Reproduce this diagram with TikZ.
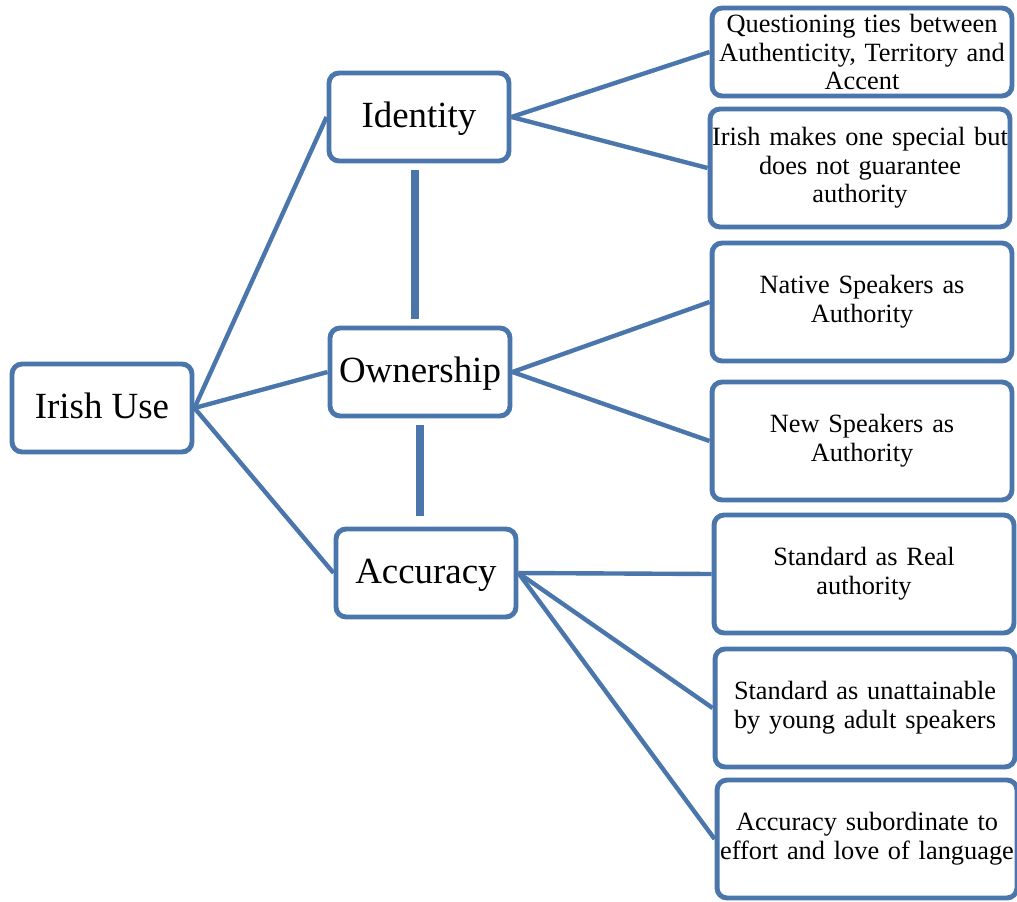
\documentclass[tikz,border=0pt]{standalone}
\usepackage{fontspec}
\setmainfont{Liberation Serif}
\definecolor{boxblue}{RGB}{74,118,172}
\tikzset{
  topic/.style={draw=boxblue, line width=2.8pt, rounded corners=0.2cm, fill=white,
    inner sep=0pt, minimum width=3.6cm, minimum height=1.76cm, align=center,
    text height=16pt, text depth=3.6pt, font=\fontsize{21}{24}\selectfont},
  leaf/.style={draw=boxblue, line width=2.8pt, rounded corners=0.2cm, fill=white,
    inner sep=0pt, text width=6cm, minimum height=2.36cm, align=center,
    font=\fontsize{15}{16.3}\selectfont},
  link/.style={boxblue, line width=2.5pt},
  stem/.style={boxblue, line width=4pt},
}
\begin{document}
\begin{tikzpicture}[x=0.02cm, y=-0.02cm]
\useasboundingbox (0,0) rectangle (1017,902);

\node[topic] (use) at (102,408) {Irish Use};
\node[topic] (ident) at (419,117) {Identity};
\node[topic] (owner) at (420,372) {Ownership};
\node[topic] (accur) at (426,573) {Accuracy};

\node[leaf, minimum height=1.76cm] (ties) at (862,52) {Questioning ties between\\ Authenticity, Territory and\\ Accent};
\node[leaf] (special) at (860,168) {Irish makes one special but\\ does not guarantee\\ authority};
\node[leaf] (native) at (862,302) {Native Speakers as\\ Authority};
\node[leaf] (new) at (862,441) {New Speakers as\\ Authority};
\node[leaf] (real) at (864,574) {Standard as Real\\ authority};
\node[leaf] (unatt) at (865,708) {Standard as unattainable\\ by young adult speakers};
\node[leaf] (subord) at (867,839) {Accuracy subordinate to\\ effort and love of language};

\foreach \t in {ident,owner,accur}
{
    \draw[link] (use.east)--(\t.west);
}
\foreach \s/\t in {ident/ties, ident/special, owner/native, owner/new, accur/real, accur/unatt, accur/subord}
{
    \draw[link] (\s.east)--(\t.west);
}
\draw[stem] ([xshift=-0.08cm, yshift=-4pt]ident.south)--([xshift=-0.08cm, yshift=4pt]ident.south |- owner.north);
\draw[stem] ([yshift=-4pt]owner.south)--([yshift=6pt]owner.south |- accur.north);
\end{tikzpicture}
\end{document}
